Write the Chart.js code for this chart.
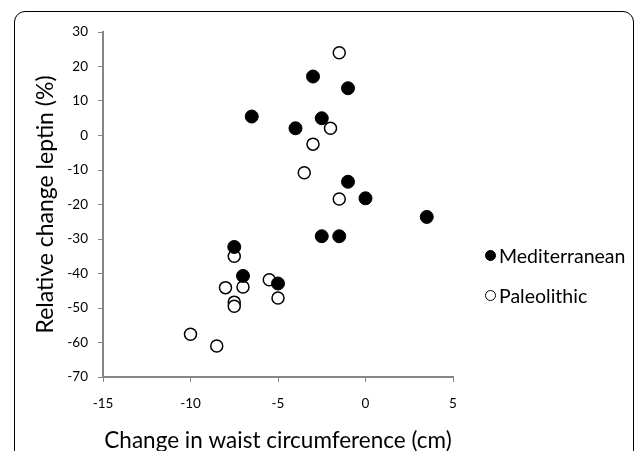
<!DOCTYPE html>
<html>
<head>
<meta charset="utf-8">
<script src="https://cdn.jsdelivr.net/npm/chart.js@4/dist/chart.umd.min.js"></script>
<style>
    html, body { margin: 0; padding: 0; background: #fff; overflow: hidden; }
    #wrap { position: relative; width: 637px; height: 451px; }
    #frame { position: absolute; left: 14px; top: 11px; width: 620px; height: 470px;
             border: 1px solid #000; border-radius: 11px; box-sizing: border-box; }
    #chart { position: absolute; left: 0; top: 0; }
    #legend { position: absolute; left: 485px; top: 242px; font-family: Lato, sans-serif;
              font-size: 19.5px; color: #000; }
    #legend div { display: flex; align-items: center; height: 26px; margin-bottom: 14px; }
    #legend span.mark { display: inline-block; width: 11px; height: 11px; border-radius: 50%;
                        box-sizing: border-box; border: 1.2px solid #000; margin-right: 3px; }
</style>
</head>
<body>
<div id="wrap">
    <div id="frame"></div>
    <canvas id="chart" width="637" height="451"></canvas>
    <div id="legend"></div>
</div>
<script>
// Mediterranean (filled)
const medX = [-3, -1, -6.5, -2.5, -4, -1, 0, 3.5, -2.5, -1.5, -7.5, -7, -5];
const medY = [17.1, 13.7, 5.5, 5, 2.1, -13.4, -18.2, -23.6, -29.2, -29.2, -32.3, -40.7, -42.9];
// Paleolithic (open)
const palX = [-1.5, -2, -3, -3.5, -1.5, -7.5, -5.5, -8, -7, -7.5, -7.5, -5, -10, -8.5];
const palY = [24, 2.1, -2.5, -10.8, -18.4, -35, -41.8, -44.1, -43.9, -48.3, -49.5, -47.1, -57.6, -61];

const seriesNames = ['Mediterranean', 'Paleolithic'];
const xTicks = [-15, -10, -5, 0, 5];
const yTicks = [30, 20, 10, 0, -10, -20, -30, -40, -50, -60, -70];

const toPoints = (xs, ys) => xs.map((x, i) => ({ x: x, y: ys[i] }));
const axisGray = '#868686';

const chart = new Chart(document.getElementById('chart'), {
    type: 'scatter',
    data: {
        datasets: [{
            label: seriesNames[0],
            data: toPoints(medX, medY),
            backgroundColor: '#000',
            borderColor: '#000',
            borderWidth: 1,
            pointRadius: 6.5
        }, {
            label: seriesNames[1],
            data: toPoints(palX, palY),
            backgroundColor: '#fff',
            borderColor: '#000',
            borderWidth: 1.5,
            pointRadius: 6
        }]
    },
    options: {
        responsive: false,
        animation: false,
        events: [],
        layout: { padding: { left: 0, top: 32, right: 184, bottom: 0 } },
        plugins: { legend: { display: false }, tooltip: { enabled: false } },
        scales: {
            x: {
                type: 'linear',
                min: -15, max: 5,
                afterFit: s => { s.height = 74; },
                afterBuildTicks: s => { s.ticks = xTicks.map(v => ({ value: v })); },
                grid: { drawOnChartArea: false, drawTicks: true, tickLength: 5, color: axisGray, lineWidth: 1 },
                border: { color: axisGray, width: 2 },
                ticks: { padding: 14, color: '#000', font: { family: 'Lato', size: 13.5 } },
                title: { display: true, text: 'Change in waist circumference (cm)', color: '#000',
                         font: { family: 'Lato', size: 22.5, lineHeight: 1 }, padding: { top: 0, bottom: -1 } }
            },
            y: {
                type: 'linear',
                min: -70, max: 30,
                afterFit: s => { s.width = 103; },
                afterBuildTicks: s => { s.ticks = yTicks.map(v => ({ value: v })); },
                grid: { drawOnChartArea: false, drawTicks: true, tickLength: 5, color: axisGray, lineWidth: 1 },
                border: { color: axisGray, width: 2 },
                ticks: { padding: 10, color: '#000', font: { family: 'Lato', size: 13.5 } },
                title: { display: true, text: 'Relative change leptin (%)', color: '#000',
                         font: { family: 'Lato', size: 23, lineHeight: 1 }, padding: { top: 34, bottom: 0 } }
            }
        }
    }
});

// legend built from the datasets
const legend = document.getElementById('legend');
chart.data.datasets.forEach(ds => {
    const row = document.createElement('div');
    const mark = document.createElement('span');
    mark.className = 'mark';
    mark.style.background = ds.backgroundColor;
    row.appendChild(mark);
    row.appendChild(document.createTextNode(ds.label));
    legend.appendChild(row);
});
</script>
</body>
</html>
